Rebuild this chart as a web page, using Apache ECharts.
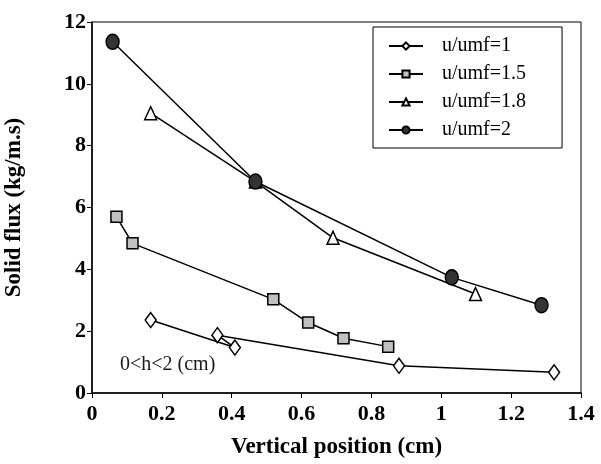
<!DOCTYPE html>
<html>
<head>
<meta charset="utf-8">
<script src="https://cdn.jsdelivr.net/npm/echarts@6/dist/echarts.min.js"></script>
<style>html,body{margin:0;padding:0;background:#fff;}#c{width:601px;height:464px;}</style>
</head>
<body>
<div id="c"></div>
<script>
const seriesNames = ['u/umf=1', 'u/umf=1.5', 'u/umf=1.8', 'u/umf=2'];
const s1 = [[0.168, 2.36], [0.409, 1.47], [0.359, 1.87], [0.879, 0.88], [1.323, 0.67]];
const s15 = [[0.07, 5.7], [0.116, 4.84], [0.519, 3.03], [0.619, 2.28], [0.72, 1.77], [0.848, 1.5]];
const s18 = [[0.168, 9.05], [0.468, 6.84], [0.69, 5.02], [1.098, 3.2]];
const s2 = [[0.059, 11.36], [0.468, 6.84], [1.03, 3.74], [1.287, 2.84]];
const xTicks = [0, 0.2, 0.4, 0.6, 0.8, 1, 1.2, 1.4];
const yTicks = [0, 2, 4, 6, 8, 10, 12];
const annotation = '0<h<2 (cm)';

const FONT = '"Liberation Serif", "Times New Roman", serif';
const chart = echarts.init(document.getElementById('c'), null, {renderer: 'canvas'});

function mk(name, data, symbol, size, fill, z) {
  return {
    name: name, type: 'line', data: data, symbol: symbol, symbolSize: size,
    showAllSymbol: true,
    lineStyle: {color: '#000', width: 1.5},
    itemStyle: {color: fill, borderColor: '#000', borderWidth: 1.5},
    emphasis: {disabled: true}, animation: false, z: z
  };
}

chart.setOption({
  animation: false,
  grid: {left: 92, right: 20, top: 22, bottom: 71, show: true, borderColor: '#000', borderWidth: 1,
         containLabel: false, outerBoundsMode: 'none'},
  xAxis: {
    type: 'value', min: xTicks[0], max: xTicks[xTicks.length - 1], interval: 0.2,
    name: 'Vertical position (cm)', nameLocation: 'middle', nameGap: 43,
    nameTextStyle: {fontFamily: FONT, fontWeight: 'bold', fontSize: 23, color: '#000'},
    axisLine: {show: true, lineStyle: {color: '#000', width: 1.5}},
    axisTick: {show: true, inside: false, length: 5, lineStyle: {color: '#000', width: 1}},
    axisLabel: {fontFamily: FONT, fontWeight: 'bold', fontSize: 22, color: '#000', margin: 10},
    splitLine: {show: false}
  },
  yAxis: {
    type: 'value', min: yTicks[0], max: yTicks[yTicks.length - 1], interval: 2,
    name: 'Solid flux (kg/m.s)', nameLocation: 'middle', nameGap: 66,
    nameTextStyle: {fontFamily: FONT, fontWeight: 'bold', fontSize: 23, color: '#000'},
    axisLine: {show: true, lineStyle: {color: '#000', width: 1.5}},
    axisTick: {show: true, inside: false, length: 5, lineStyle: {color: '#000', width: 1}},
    axisLabel: {fontFamily: FONT, fontWeight: 'bold', fontSize: 22, color: '#000', margin: 6},
    splitLine: {show: false}
  },
  legend: {
    left: 373, top: 27, orient: 'vertical',
    padding: [9, 36, 8, 15],
    borderColor: '#000', borderWidth: 1,
    itemGap: 8, itemWidth: 34, itemHeight: 9,
    textStyle: {fontFamily: FONT, fontSize: 20, color: '#000', lineHeight: 20, padding: [0, 0, 0, 14]},
    data: seriesNames
  },
  graphic: [{
    type: 'text', left: 120, top: 355,
    style: {text: annotation, font: '20px ' + FONT, fill: '#1a1a1a'}
  }],
  series: [
    mk(seriesNames[0], s1, 'diamond', [11, 15], '#fff', 3),
    mk(seriesNames[1], s15, 'rect', [11, 11], '#c0c0c0', 3),
    mk(seriesNames[2], s18, 'triangle', [12, 13], '#fff', 3),
    mk(seriesNames[3], s2, 'circle', [13, 15], '#333', 4)
  ]
});
</script>
</body>
</html>
